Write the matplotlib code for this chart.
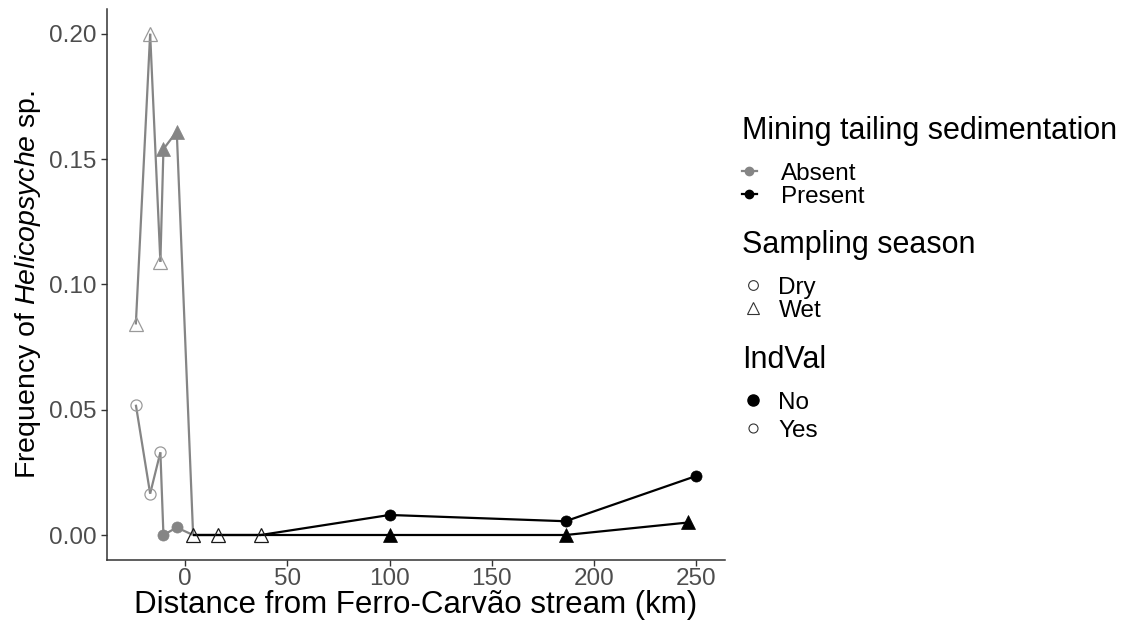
import matplotlib
matplotlib.use('Agg')
import matplotlib.pyplot as plt
from matplotlib.lines import Line2D

plt.rcParams['font.family'] = ['Liberation Sans', 'DejaVu Sans']
plt.rcParams['mathtext.fontset'] = 'custom'
plt.rcParams['mathtext.rm'] = 'Liberation Sans'
plt.rcParams['mathtext.it'] = 'Liberation Sans:italic'

# data
dry_km = [-24, -17, -12, -10.5, -4, 4, 16, 37, 100, 186, 250]
dry_freq = [0.052, 0.0165, 0.033, 0.0, 0.003, 0.0, 0.0, 0.0, 0.008, 0.0055, 0.0236]
dry_mining = ['Absent'] * 5 + ['Present'] * 6
dry_indval = ['Yes', 'Yes', 'Yes', 'No', 'No', None, None, None, 'No', 'No', 'No']

wet_km = [-24, -17, -12, -10.5, -4, 4, 16, 37, 100, 186, 246]
wet_freq = [0.084, 0.200, 0.109, 0.154, 0.161, 0.0, 0.0, 0.0, 0.0, 0.0, 0.005]
wet_mining = ['Absent'] * 5 + ['Present'] * 6
wet_indval = ['Yes', 'Yes', 'Yes', 'No', 'No', 'Yes', 'Yes', 'Yes', 'No', 'No', 'No']

x_ticks = [0, 50, 100, 150, 200, 250]
y_ticks = [0.00, 0.05, 0.10, 0.15, 0.20]

colors = {'Absent': '#858585', 'Present': '#000000'}
open_edge = {'Absent': '#9a9a9a', 'Present': '#1a1a1a'}

fig = plt.figure(figsize=(11.38, 6.23), dpi=100)
ax = fig.add_axes([0.094, 0.101, 0.543, 0.885])


def draw_season(km, freq, mining, indval, marker, size):
    # each segment takes the colour of its starting point (like ggplot geom_line)
    for i in range(len(km) - 1):
        ax.plot(km[i:i + 2], freq[i:i + 2], color=colors[mining[i]],
                lw=1.6, solid_capstyle='butt', zorder=2)
    for x, y, m, iv in zip(km, freq, mining, indval):
        if iv is None:
            continue
        if iv == 'No':
            ax.plot(x, y, marker=marker, ms=size, color=colors[m],
                    mec=colors[m], mew=0.5, zorder=3)
        else:
            ax.plot(x, y, marker=marker, ms=size, mfc='none',
                    mec=open_edge[m], mew=0.9, zorder=3)


draw_season(dry_km, dry_freq, dry_mining, dry_indval, 'o', 8)
draw_season(wet_km, wet_freq, wet_mining, wet_indval, '^', 10)

ax.set_xlim(-38.1, 263.9)
ax.set_ylim(-0.01, 0.21)
ax.set_xticks(x_ticks)
ax.set_yticks(y_ticks)
ax.set_yticklabels(['%.2f' % v for v in y_ticks])
ax.tick_params(labelsize=17.5, labelcolor='#4d4d4d', color='#333333',
               length=4, width=1)
ax.tick_params(axis='x', pad=2)
for side in ['top', 'right']:
    ax.spines[side].set_visible(False)
for side in ['left', 'bottom']:
    ax.spines[side].set_color('#333333')
    ax.spines[side].set_linewidth(1.1)

ax.set_xlabel('Distance from Ferro-Carvão stream (km)', fontsize=22.5, labelpad=0)
ax.set_ylabel(r'Frequency of $\it{Helicopsyche}$ sp.', fontsize=20.5, labelpad=4)

# legends
leg_kw = dict(loc='upper left', frameon=False, fontsize=17.5, title_fontsize=22,
              alignment='left', borderpad=0, borderaxespad=0)

h1 = [Line2D([0], [0], color=colors[k], lw=1.6, marker='o', ms=6)
      for k in ['Absent', 'Present']]
l1 = fig.legend(h1, ['Absent', 'Present'], title='Mining tailing sedimentation',
                bbox_to_anchor=(742 / 1138, 1 - 116 / 623),
                handlelength=0.6, handletextpad=1.0, labelspacing=0.05, **leg_kw)

h2 = [Line2D([0], [0], ls='', marker='o', ms=7, mfc='none', mec='#333333', mew=0.8),
      Line2D([0], [0], ls='', marker='^', ms=8, mfc='none', mec='#333333', mew=0.8)]
l2 = fig.legend(h2, ['Dry', 'Wet'], title='Sampling season',
                bbox_to_anchor=(742 / 1138, 1 - 230 / 623),
                handlelength=0.9, handletextpad=0.6, labelspacing=0.05, **leg_kw)

h3 = [Line2D([0], [0], ls='', marker='o', ms=8, color='black'),
      Line2D([0], [0], ls='', marker='o', ms=6.5, mfc='none', mec='#333333', mew=0.8)]
l3 = fig.legend(h3, ['No', 'Yes'], title='IndVal',
                bbox_to_anchor=(742 / 1138, 1 - 345 / 623),
                handlelength=0.9, handletextpad=0.6, labelspacing=0.25, **leg_kw)
for leg in (l1, l2, l3):
    leg._legend_box.sep = 12

fig.savefig('out.png', dpi=100)
